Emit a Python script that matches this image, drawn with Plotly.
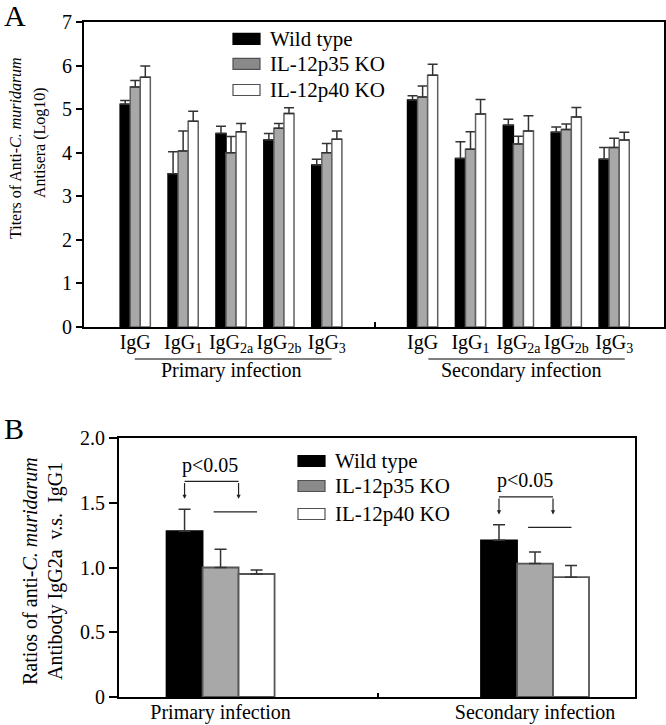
import plotly.graph_objects as go

# ---------------- Data ----------------
series_names = ["Wild type", "IL-12p35 KO", "IL-12p40 KO"]

# Panel A categories (primary: 0-4, gap at 5, secondary: 6-10)
a_positions = [0, 1, 2, 3, 4, 6, 7, 8, 9, 10]
a_ticktext = ["IgG", "IgG<sub>1</sub>", "IgG<sub>2a</sub>", "IgG<sub>2b</sub>", "IgG<sub>3</sub>"] * 2

a_wt = [5.11, 3.52, 4.44, 4.29, 3.72, 5.21, 3.87, 4.63, 4.47, 3.85]
a_wt_err = [0.09, 0.50, 0.17, 0.15, 0.13, 0.10, 0.38, 0.14, 0.12, 0.27]
a_p35 = [5.51, 4.04, 4.00, 4.56, 4.00, 5.28, 4.08, 4.20, 4.53, 4.12]
a_p35_err = [0.15, 0.46, 0.37, 0.11, 0.21, 0.25, 0.40, 0.18, 0.13, 0.21]
a_p40 = [5.73, 4.72, 4.48, 4.90, 4.31, 5.78, 4.89, 4.50, 4.82, 4.29]
a_p40_err = [0.26, 0.23, 0.19, 0.13, 0.19, 0.25, 0.33, 0.35, 0.22, 0.18]

# Panel B
b_positions = [0, 1]
b_ticktext = ["Primary infection", "Secondary infection"]
b_wt = [1.28, 1.21]
b_wt_err = [0.17, 0.12]
b_p35 = [1.00, 1.03]
b_p35_err = [0.14, 0.09]
b_p40 = [0.95, 0.925]
b_p40_err = [0.03, 0.09]

# ---------------- Styles ----------------
FONT = "Liberation Serif, Times New Roman, serif"
fills = ["#000000", "#a8a8a8", "#ffffff"]
outlines = ["#000000", "#606060", "#606060"]
legend_fills = ["#000000", "#8a8a8a", "#ffffff"]
W, H = 666, 725


def px(x):
    return x / W


def py(y):
    return 1 - y / H


fig = go.Figure()

# Panel A bars
a_vals = [a_wt, a_p35, a_p40]
a_errs = [a_wt_err, a_p35_err, a_p40_err]
wA = 0.21
for k in range(3):
    fig.add_trace(go.Bar(
        x=a_positions, y=a_vals[k], name=series_names[k],
        width=wA, offset=-1.5 * wA + k * wA,
        marker=dict(color=fills[k], line=dict(color=outlines[k], width=1.5)),
        error_y=dict(type="data", array=a_errs[k], arrayminus=[0] * len(a_errs[k]),
                     symmetric=False, color="#333333", thickness=1.5, width=5),
        xaxis="x", yaxis="y", showlegend=False,
    ))

# Panel B bars
b_vals = [b_wt, b_p35, b_p40]
b_errs = [b_wt_err, b_p35_err, b_p40_err]
b_outlines = ["#000000", "#555555", "#555555"]
wB = 0.1145
for k in range(3):
    fig.add_trace(go.Bar(
        x=b_positions, y=b_vals[k], name=series_names[k],
        width=wB, offset=-1.5 * wB + k * wB,
        marker=dict(color=fills[k], line=dict(color=b_outlines[k], width=1.8)),
        error_y=dict(type="data", array=b_errs[k], arrayminus=[0] * len(b_errs[k]),
                     symmetric=False, color="#333333", thickness=1.5, width=6),
        xaxis="x2", yaxis="y2", showlegend=False,
    ))

axis_common = dict(showline=True, linecolor="black", linewidth=2, mirror=True,
                   showgrid=False, zeroline=False, automargin=False,
                   tickfont=dict(family=FONT, size=20, color="black"))

fig.update_layout(
    template="none",
    width=W, height=H, margin=dict(l=0, r=0, t=0, b=0, pad=0, autoexpand=False),
    paper_bgcolor="white", plot_bgcolor="white",
    barmode="overlay", font=dict(family=FONT, color="black"),
    xaxis=dict(domain=[px(84), px(664)], range=[-1.07, 11.04], anchor="y",
               tickvals=a_positions, ticktext=a_ticktext, ticks="", ticklen=0,
               ticklabelstandoff=-4,
               minor=dict(tickvals=[5], ticks="inside", ticklen=5, tickcolor="black", tickwidth=2),
               **axis_common),
    yaxis=dict(domain=[py(327), py(22)], range=[0, 7], anchor="x",
               tickvals=[0, 1, 2, 3, 4, 5, 6, 7], ticks="outside", ticklen=6,
               tickwidth=2, tickcolor="black", **axis_common),
    xaxis2=dict(domain=[px(119), px(635)], range=[-0.323, 1.318], anchor="y2",
                tickvals=b_positions, ticktext=b_ticktext, ticks="", ticklen=0,
                ticklabelstandoff=-4,
                minor=dict(tickvals=[0.5], ticks="inside", ticklen=4, tickcolor="black", tickwidth=2),
                **axis_common),
    yaxis2=dict(domain=[py(697), py(438)], range=[0, 2.0], anchor="x2",
                tickvals=[0, 0.5, 1.0, 1.5, 2.0], ticktext=["0", "0.5", "1.0", "1.5", "2.0"],
                ticks="outside", ticklen=8, tickwidth=2, tickcolor="black", **axis_common),
)

shapes = []
annotations = []


def label(text, x, y, size, xanchor="center", angle=0, xref="paper"):
    annotations.append(dict(text=text, x=x, y=py(y), xref=xref, yref="paper",
                            xanchor=xanchor, yanchor="middle", textangle=angle,
                            showarrow=False, font=dict(family=FONT, size=size, color="black")))


# Panel letters
label("A", px(15), 16, 30)
label("B", px(14), 428, 30)

# Y axis titles (each line as its own rotated text)
label("Titers of Anti-<i>C. muridarum</i>", px(15), 148, 16, angle=-90)
label("Antisera (Log10)", px(40), 143, 16, angle=-90)
label("Ratios of anti-<i>C. muridarum</i>", px(30), 571, 20, angle=-90)
label("Antibody IgG2a \u00a0v.s. \u00a0IgG1", px(55), 571, 20, angle=-90)

# Group labels panel A
groups = [("Primary infection", -0.01, 4.10, 2.0), ("Secondary infection", 6.12, 10.22, 8.07)]
for name, x0, x1, xc in groups:
    shapes.append(dict(type="line", xref="x", yref="paper", x0=x0, x1=x1,
                       y0=py(359), y1=py(359), line=dict(color="black", width=1.2)))
    label(name, xc, 370, 20, xref="x")


# Custom legends
def add_legend(x_sw, y_rows, x_text, sw_w, sw_h, size):
    for k in range(3):
        yc = y_rows[k]
        shapes.append(dict(type="rect", xref="paper", yref="paper",
                           x0=px(x_sw), x1=px(x_sw + sw_w), y0=py(yc + sw_h / 2), y1=py(yc - sw_h / 2),
                           fillcolor=legend_fills[k],
                           line=dict(color="#000000" if k == 0 else "#505050", width=1.2)))
        label(series_names[k], px(x_text), yc, size, xanchor="left")


add_legend(233, [38.8, 63.8, 90.0], 268, 27, 11, 21)
add_legend(298, [461, 486, 514], 333, 27, 11, 21)

# Significance brackets in panel B
for i in range(2):
    c = b_positions[i]
    top = b_wt[i] + b_wt_err[i]
    xl, xr = c - wB, c + 0.5 * wB
    yb = top + 0.215
    tip = top + 0.08
    shapes.append(dict(type="line", xref="x2", yref="y2", x0=xl, x1=xr, y0=yb, y1=yb,
                       line=dict(color="#222222", width=1.2)))
    for xx in (xl, xr):
        annotations.append(dict(text="", x=xx, y=tip, ax=xx, ay=yb, xref="x2", yref="y2",
                                axref="x2", ayref="y2", showarrow=True, arrowhead=2,
                                arrowsize=0.7, arrowwidth=1.2, arrowcolor="#222222"))
    annotations.append(dict(text="p<0.05", x=c - 0.033, y=top + 0.34, xref="x2", yref="y2",
                            xanchor="center", yanchor="middle",
                            showarrow=False, font=dict(family=FONT, size=20)))
    shapes.append(dict(type="line", xref="x2", yref="y2", x0=c - 0.022, x1=c + 0.116,
                       y0=top - 0.02, y1=top - 0.02, line=dict(color="#222222", width=1.2)))

fig.update_layout(shapes=shapes, annotations=annotations)

fig.write_html(
    "out.html",
    config={"displayModeBar": False},
    post_script="document.body.style.margin='0';document.body.style.overflow='hidden';"
                "document.documentElement.style.overflow='hidden';",
)
